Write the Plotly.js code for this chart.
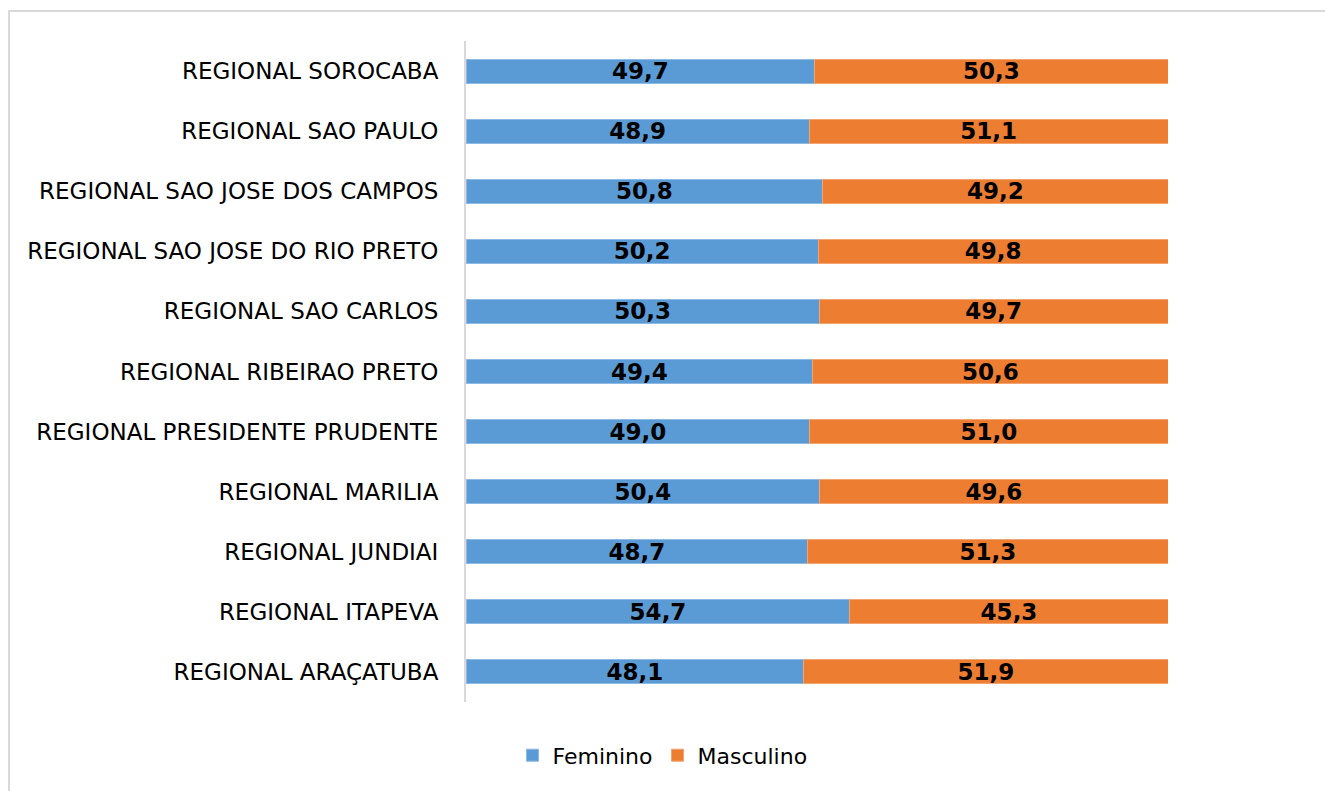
<!DOCTYPE html>
<html>
<head>
<meta charset="utf-8">
<script src="https://cdn.plot.ly/plotly-3.0.1.min.js"></script>
<style>
html,body{margin:0;padding:0;background:#fff;}
#chart{width:1325px;height:791px;}
</style>
</head>
<body>
<div id="chart"></div>
<script>
const categories = [
  "REGIONAL SOROCABA",
  "REGIONAL SAO PAULO",
  "REGIONAL SAO JOSE DOS CAMPOS",
  "REGIONAL SAO JOSE DO RIO PRETO",
  "REGIONAL SAO CARLOS",
  "REGIONAL RIBEIRAO PRETO",
  "REGIONAL PRESIDENTE PRUDENTE",
  "REGIONAL MARILIA",
  "REGIONAL JUNDIAI",
  "REGIONAL ITAPEVA",
  "REGIONAL ARAÇATUBA"
];
const feminino = [49.7, 48.9, 50.8, 50.2, 50.3, 49.4, 49.0, 50.4, 48.7, 54.7, 48.1];
const masculino = [50.3, 51.1, 49.2, 49.8, 49.7, 50.6, 51.0, 49.6, 51.3, 45.3, 51.9];
const seriesNames = ["Feminino", "Masculino"];

const fmt = v => v.toFixed(1).replace('.', ',');
const FONT = "'DejaVu Sans', sans-serif";

const traces = [
  {
    type: 'bar', orientation: 'h', name: seriesNames[0],
    y: categories, x: feminino, text: feminino.map(fmt),
    marker: {color: '#5B9BD5', line: {color: '#8DB9E3', width: 1}},
    textposition: 'inside', insidetextanchor: 'middle', constraintext: 'none',
    textfont: {family: FONT, size: 23, color: '#000', weight: 'bold'},
    hoverinfo: 'x+y'
  },
  {
    type: 'bar', orientation: 'h', name: seriesNames[1],
    y: categories, x: masculino, text: masculino.map(fmt),
    marker: {color: '#ED7D31', line: {color: '#F2A471', width: 1}},
    textposition: 'inside', insidetextanchor: 'middle', constraintext: 'none',
    textfont: {family: FONT, size: 23, color: '#000', weight: 'bold'},
    hoverinfo: 'x+y'
  }
];

const layout = {
  width: 1325, height: 791,
  paper_bgcolor: '#fff', plot_bgcolor: '#fff',
  barmode: 'stack', bargap: 0.6,
  margin: {l: 466, r: 157, t: 41, b: 89},
  font: {family: FONT, color: '#000'},
  xaxis: {range: [0, 100], visible: false, fixedrange: true},
  yaxis: {
    type: 'category', autorange: 'reversed',
    showline: true, linecolor: '#d9d9d9', linewidth: 2,
    showgrid: false, zeroline: false, ticks: '',
    ticklabelstandoff: 21,
    tickfont: {family: FONT, size: 23, color: '#000'}
  },
  showlegend: true,
  legend: {
    orientation: 'h', xref: 'container', yref: 'container',
    x: 0.5, xanchor: 'center', y: 0.045, yanchor: 'middle',
    font: {family: FONT, size: 22, color: '#000'},
    traceorder: 'normal', itemwidth: 30
  },
  shapes: [{
    type: 'rect', xref: 'paper', yref: 'paper',
    x0: -0.651, x1: 1.5, y0: -0.5, y1: 1.0454,
    line: {color: '#d9d9d9', width: 2}, fillcolor: 'rgba(0,0,0,0)', layer: 'below'
  }]
};

Plotly.newPlot('chart', traces, layout, {displayModeBar: false, staticPlot: true});
</script>
</body>
</html>
